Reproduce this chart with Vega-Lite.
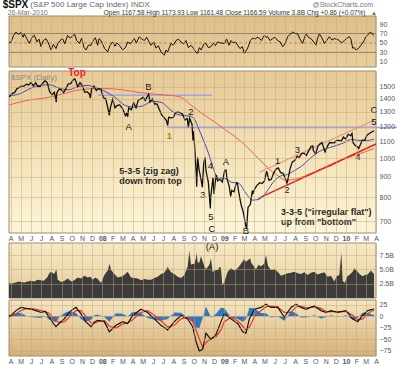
{
"$schema":"https://vega.github.io/schema/vega-lite/v6.json",
"background":"white",
"padding":{"left":2,"top":0,"right":0,"bottom":0},
"spacing":0,
"resolve":{"scale":{"x":"independent","y":"independent"}},
"config":{"view":{"stroke":null},"font":"Liberation Sans","axis":{"labelFont":"Liberation Sans","labelFontSize":7,"labelColor":"#555","ticks":false,"domain":false,"gridColor":"#c2a676","gridOpacity":0.45,"gridWidth":1,"minExtent":0,"zindex":1}},
"datasets":{
"px":[{"d":"2007-03-27","p":1417},{"d":"2007-03-30","p":1421},{"d":"2007-04-05","p":1443},{"d":"2007-04-13","p":1452},{"d":"2007-04-20","p":1484},{"d":"2007-04-27","p":1494},{"d":"2007-05-04","p":1505},{"d":"2007-05-11","p":1505},{"d":"2007-05-18","p":1522},{"d":"2007-05-25","p":1515},{"d":"2007-06-01","p":1536},{"d":"2007-06-08","p":1507},{"d":"2007-06-15","p":1533},{"d":"2007-06-22","p":1502},{"d":"2007-06-29","p":1503},{"d":"2007-07-06","p":1530},{"d":"2007-07-13","p":1552},{"d":"2007-07-20","p":1534},{"d":"2007-07-27","p":1458},{"d":"2007-08-03","p":1433},{"d":"2007-08-10","p":1453},{"d":"2007-08-16","p":1375},{"d":"2007-08-17","p":1445},{"d":"2007-08-24","p":1479},{"d":"2007-08-31","p":1474},{"d":"2007-09-07","p":1453},{"d":"2007-09-14","p":1484},{"d":"2007-09-21","p":1525},{"d":"2007-09-28","p":1527},{"d":"2007-10-05","p":1557},{"d":"2007-10-10","p":1568},{"d":"2007-10-12","p":1561},{"d":"2007-10-19","p":1500},{"d":"2007-10-26","p":1535},{"d":"2007-11-02","p":1509},{"d":"2007-11-09","p":1453},{"d":"2007-11-16","p":1458},{"d":"2007-11-23","p":1440},{"d":"2007-11-26","p":1407},{"d":"2007-11-30","p":1481},{"d":"2007-12-07","p":1504},{"d":"2007-12-14","p":1468},{"d":"2007-12-21","p":1484},{"d":"2007-12-28","p":1478},{"d":"2008-01-04","p":1411},{"d":"2008-01-11","p":1401},{"d":"2008-01-18","p":1325},{"d":"2008-01-22","p":1275},{"d":"2008-01-25","p":1330},{"d":"2008-02-01","p":1396},{"d":"2008-02-08","p":1331},{"d":"2008-02-15","p":1349},{"d":"2008-02-22","p":1353},{"d":"2008-02-29","p":1331},{"d":"2008-03-07","p":1294},{"d":"2008-03-10","p":1273},{"d":"2008-03-14","p":1288},{"d":"2008-03-17","p":1265},{"d":"2008-03-20","p":1330},{"d":"2008-03-28","p":1316},{"d":"2008-04-04","p":1370},{"d":"2008-04-11","p":1332},{"d":"2008-04-18","p":1390},{"d":"2008-04-25","p":1398},{"d":"2008-05-02","p":1413},{"d":"2008-05-09","p":1388},{"d":"2008-05-16","p":1425},{"d":"2008-05-19","p":1438},{"d":"2008-05-23","p":1376},{"d":"2008-05-30","p":1400},{"d":"2008-06-06","p":1360},{"d":"2008-06-13","p":1360},{"d":"2008-06-20","p":1318},{"d":"2008-06-27","p":1278},{"d":"2008-07-03","p":1262},{"d":"2008-07-11","p":1239},{"d":"2008-07-15","p":1205},{"d":"2008-07-18","p":1261},{"d":"2008-07-25","p":1257},{"d":"2008-08-01","p":1260},{"d":"2008-08-08","p":1296},{"d":"2008-08-15","p":1298},{"d":"2008-08-22","p":1293},{"d":"2008-08-29","p":1283},{"d":"2008-09-05","p":1242},{"d":"2008-09-12","p":1252},{"d":"2008-09-15","p":1193},{"d":"2008-09-19","p":1255},{"d":"2008-09-26","p":1213},{"d":"2008-09-29","p":1106},{"d":"2008-09-30","p":1166},{"d":"2008-10-03","p":1099},{"d":"2008-10-09","p":909},{"d":"2008-10-10","p":850},{"d":"2008-10-13","p":1003},{"d":"2008-10-17","p":940},{"d":"2008-10-22","p":896},{"d":"2008-10-24","p":877},{"d":"2008-10-27","p":848},{"d":"2008-10-31","p":968},{"d":"2008-11-04","p":1005},{"d":"2008-11-07","p":931},{"d":"2008-11-14","p":873},{"d":"2008-11-20","p":752},{"d":"2008-11-21","p":800},{"d":"2008-11-28","p":896},{"d":"2008-12-01","p":816},{"d":"2008-12-05","p":876},{"d":"2008-12-08","p":909},{"d":"2008-12-12","p":879},{"d":"2008-12-19","p":887},{"d":"2008-12-26","p":873},{"d":"2009-01-02","p":932},{"d":"2009-01-06","p":934},{"d":"2009-01-09","p":890},{"d":"2009-01-16","p":850},{"d":"2009-01-20","p":805},{"d":"2009-01-23","p":832},{"d":"2009-01-30","p":826},{"d":"2009-02-06","p":869},{"d":"2009-02-09","p":870},{"d":"2009-02-13","p":827},{"d":"2009-02-20","p":770},{"d":"2009-02-27","p":735},{"d":"2009-03-06","p":683},{"d":"2009-03-09","p":670},{"d":"2009-03-13","p":756},{"d":"2009-03-20","p":769},{"d":"2009-03-26","p":832},{"d":"2009-03-27","p":816},{"d":"2009-04-03","p":843},{"d":"2009-04-09","p":857},{"d":"2009-04-17","p":870},{"d":"2009-04-24","p":866},{"d":"2009-05-01","p":877},{"d":"2009-05-08","p":929},{"d":"2009-05-15","p":882},{"d":"2009-05-22","p":887},{"d":"2009-05-29","p":919},{"d":"2009-06-05","p":940},{"d":"2009-06-12","p":946},{"d":"2009-06-19","p":921},{"d":"2009-06-26","p":918},{"d":"2009-07-02","p":896},{"d":"2009-07-08","p":869},{"d":"2009-07-10","p":879},{"d":"2009-07-17","p":940},{"d":"2009-07-24","p":979},{"d":"2009-07-31","p":987},{"d":"2009-08-07","p":1010},{"d":"2009-08-14","p":1005},{"d":"2009-08-21","p":1026},{"d":"2009-08-28","p":1029},{"d":"2009-09-04","p":1016},{"d":"2009-09-11","p":1042},{"d":"2009-09-18","p":1068},{"d":"2009-09-23","p":1072},{"d":"2009-09-25","p":1044},{"d":"2009-10-02","p":1025},{"d":"2009-10-09","p":1071},{"d":"2009-10-16","p":1087},{"d":"2009-10-21","p":1092},{"d":"2009-10-23","p":1080},{"d":"2009-10-30","p":1036},{"d":"2009-11-06","p":1069},{"d":"2009-11-13","p":1093},{"d":"2009-11-20","p":1091},{"d":"2009-11-27","p":1091},{"d":"2009-12-04","p":1106},{"d":"2009-12-11","p":1106},{"d":"2009-12-18","p":1102},{"d":"2009-12-24","p":1127},{"d":"2009-12-31","p":1115},{"d":"2010-01-08","p":1145},{"d":"2010-01-15","p":1136},{"d":"2010-01-19","p":1150},{"d":"2010-01-22","p":1092},{"d":"2010-01-29","p":1074},{"d":"2010-02-05","p":1066},{"d":"2010-02-08","p":1056},{"d":"2010-02-12","p":1075},{"d":"2010-02-19","p":1109},{"d":"2010-02-26","p":1105},{"d":"2010-03-05","p":1139},{"d":"2010-03-12","p":1150},{"d":"2010-03-19","p":1160},{"d":"2010-03-26","p":1167}],
"ma50":[{"d":"2007-03-27","p":1425},{"d":"2007-04-27","p":1440},{"d":"2007-06-01","p":1488},{"d":"2007-06-29","p":1512},{"d":"2007-07-27","p":1517},{"d":"2007-08-24","p":1489},{"d":"2007-09-21","p":1474},{"d":"2007-10-19","p":1500},{"d":"2007-11-16","p":1511},{"d":"2007-12-14","p":1491},{"d":"2008-01-11","p":1458},{"d":"2008-02-08","p":1413},{"d":"2008-03-07","p":1352},{"d":"2008-04-04","p":1336},{"d":"2008-05-02","p":1346},{"d":"2008-05-30","p":1381},{"d":"2008-06-27","p":1372},{"d":"2008-07-25","p":1311},{"d":"2008-08-22","p":1276},{"d":"2008-09-19","p":1270},{"d":"2008-10-03","p":1249},{"d":"2008-10-17","p":1177},{"d":"2008-10-31","p":1103},{"d":"2008-11-14","p":1031},{"d":"2008-11-28","p":950},{"d":"2008-12-12","p":894},{"d":"2009-01-02","p":892},{"d":"2009-01-23","p":872},{"d":"2009-02-13","p":867},{"d":"2009-03-06","p":821},{"d":"2009-03-27","p":788},{"d":"2009-04-17","p":793},{"d":"2009-05-08","p":827},{"d":"2009-05-29","p":875},{"d":"2009-06-19","p":904},{"d":"2009-07-10","p":912},{"d":"2009-07-31","p":933},{"d":"2009-08-21","p":956},{"d":"2009-09-11","p":991},{"d":"2009-10-02","p":1025},{"d":"2009-10-23","p":1049},{"d":"2009-11-13","p":1062},{"d":"2009-12-04","p":1075},{"d":"2009-12-24","p":1090},{"d":"2010-01-15","p":1111},{"d":"2010-02-05","p":1107},{"d":"2010-02-26","p":1104},{"d":"2010-03-26","p":1114}],
"ma200":[{"d":"2007-03-27","p":1352},{"d":"2007-05-15","p":1385},{"d":"2007-07-31","p":1416},{"d":"2007-09-15","p":1448},{"d":"2007-10-29","p":1476},{"d":"2007-12-15","p":1484},{"d":"2008-01-27","p":1483},{"d":"2008-03-10","p":1470},{"d":"2008-04-26","p":1450},{"d":"2008-06-15","p":1436},{"d":"2008-08-01","p":1425},{"d":"2008-08-24","p":1412},{"d":"2008-09-23","p":1352},{"d":"2008-10-25","p":1290},{"d":"2008-12-02","p":1229},{"d":"2009-01-01","p":1180},{"d":"2009-01-31","p":1133},{"d":"2009-02-28","p":1085},{"d":"2009-03-22","p":1042},{"d":"2009-04-15","p":995},{"d":"2009-05-11","p":947},{"d":"2009-06-08","p":908},{"d":"2009-07-05","p":882},{"d":"2009-08-09","p":891},{"d":"2009-09-15","p":915},{"d":"2009-10-15","p":937},{"d":"2009-11-17","p":958},{"d":"2009-12-20","p":990},{"d":"2010-01-25","p":1015},{"d":"2010-02-25","p":1035},{"d":"2010-03-26","p":1056}],
"levels":[{"d":"2007-12-19","d2":"2008-11-25","p":1430},{"d":"2008-07-13","d2":"2010-06-03","p":1190}],
"chan":[{"k":"upper","d":"2009-04-16","p":923},{"k":"upper","d":"2010-03-26","p":1240},{"k":"lower","d":"2009-04-13","p":796},{"k":"lower","d":"2010-04-01","p":1084}],
"notes":[{"t":"$SPX (Daily)","d":"2007-04-02","p":1577,"k":"tag"},{"t":"Top","d":"2007-10-17","p":1618,"k":"top"},{"t":"B","d":"2008-05-18","p":1500,"k":"wave"},{"t":"A","d":"2008-03-20","p":1194,"k":"wave"},{"t":"1","d":"2008-07-20","p":1133,"k":"gold"},{"t":"2","d":"2008-09-23","p":1300,"k":"wave"},{"t":"4","d":"2008-11-20","p":955,"k":"wave"},{"t":"A","d":"2009-01-06","p":978,"k":"wave"},{"t":"3","d":"2008-10-29","p":813,"k":"wave"},{"t":"5","d":"2008-11-22","p":715,"k":"wave"},{"t":"C","d":"2008-11-25","p":669,"k":"wave"},{"t":"B","d":"2009-03-07","p":662,"k":"wave"},{"t":"1","d":"2009-06-10","p":985,"k":"wave"},{"t":"2","d":"2009-07-08","p":836,"k":"wave"},{"t":"3","d":"2009-08-08","p":1048,"k":"wave"},{"t":"4","d":"2010-02-06","p":1006,"k":"wave"},{"t":"5","d":"2010-03-26","p":1231,"k":"wave"},{"t":"C","d":"2010-03-26","p":1314,"k":"wave"},{"t":"5-3-5 (zig zag)","d":"2008-02-21","p":932,"k":"note"},{"t":"down from top","d":"2008-02-21","p":878,"k":"note"},{"t":"3-3-5 (\"irregular flat\")","d":"2009-06-20","p":737,"k":"note"},{"t":"up from \"bottom\"","d":"2009-06-20","p":697,"k":"note"}],
"rsi":[{"d":"2007-03-27","p":50},{"d":"2007-04-02","p":52},{"d":"2007-04-10","p":66},{"d":"2007-04-17","p":73},{"d":"2007-04-24","p":68},{"d":"2007-05-02","p":72},{"d":"2007-05-08","p":62},{"d":"2007-05-12","p":69},{"d":"2007-05-20","p":58},{"d":"2007-05-27","p":49},{"d":"2007-06-04","p":62},{"d":"2007-06-11","p":66},{"d":"2007-06-19","p":52},{"d":"2007-06-25","p":58},{"d":"2007-07-01","p":42},{"d":"2007-07-08","p":55},{"d":"2007-07-16","p":59},{"d":"2007-07-23","p":50},{"d":"2007-07-31","p":35},{"d":"2007-08-07","p":47},{"d":"2007-08-15","p":38},{"d":"2007-08-20","p":48},{"d":"2007-08-27","p":55},{"d":"2007-09-04","p":59},{"d":"2007-09-10","p":48},{"d":"2007-09-19","p":66},{"d":"2007-09-26","p":60},{"d":"2007-10-04","p":65},{"d":"2007-10-10","p":68},{"d":"2007-10-16","p":55},{"d":"2007-10-24","p":49},{"d":"2007-10-31","p":60},{"d":"2007-11-07","p":40},{"d":"2007-11-13","p":35},{"d":"2007-11-20","p":45},{"d":"2007-11-28","p":45},{"d":"2007-12-05","p":55},{"d":"2007-12-11","p":61},{"d":"2007-12-18","p":45},{"d":"2007-12-22","p":59},{"d":"2007-12-28","p":55},{"d":"2008-01-08","p":38},{"d":"2008-01-17","p":31},{"d":"2008-01-24","p":45},{"d":"2008-02-01","p":52},{"d":"2008-02-08","p":43},{"d":"2008-02-14","p":50},{"d":"2008-02-21","p":45},{"d":"2008-03-02","p":35},{"d":"2008-03-10","p":40},{"d":"2008-03-17","p":52},{"d":"2008-03-25","p":48},{"d":"2008-04-06","p":59},{"d":"2008-04-12","p":50},{"d":"2008-04-21","p":63},{"d":"2008-04-28","p":58},{"d":"2008-05-06","p":55},{"d":"2008-05-13","p":62},{"d":"2008-05-20","p":52},{"d":"2008-05-26","p":45},{"d":"2008-06-03","p":52},{"d":"2008-06-10","p":39},{"d":"2008-06-17","p":44},{"d":"2008-06-25","p":31},{"d":"2008-07-05","p":24},{"d":"2008-07-10","p":35},{"d":"2008-07-15","p":31},{"d":"2008-07-25","p":49},{"d":"2008-08-01","p":45},{"d":"2008-08-09","p":55},{"d":"2008-08-16","p":58},{"d":"2008-08-24","p":52},{"d":"2008-09-01","p":48},{"d":"2008-09-08","p":55},{"d":"2008-09-15","p":40},{"d":"2008-09-23","p":45},{"d":"2008-10-01","p":38},{"d":"2008-10-08","p":30},{"d":"2008-10-13","p":28},{"d":"2008-10-18","p":40},{"d":"2008-10-23","p":35},{"d":"2008-11-01","p":48},{"d":"2008-11-07","p":49},{"d":"2008-11-14","p":40},{"d":"2008-11-22","p":42},{"d":"2008-11-30","p":50},{"d":"2008-12-05","p":44},{"d":"2008-12-12","p":52},{"d":"2008-12-20","p":50},{"d":"2009-01-01","p":49},{"d":"2009-01-08","p":58},{"d":"2009-01-15","p":45},{"d":"2009-01-21","p":55},{"d":"2009-01-28","p":50},{"d":"2009-02-04","p":52},{"d":"2009-02-10","p":45},{"d":"2009-02-17","p":38},{"d":"2009-02-24","p":42},{"d":"2009-03-02","p":28},{"d":"2009-03-06","p":32},{"d":"2009-03-12","p":39},{"d":"2009-03-20","p":55},{"d":"2009-03-27","p":60},{"d":"2009-04-04","p":58},{"d":"2009-04-09","p":62},{"d":"2009-04-16","p":60},{"d":"2009-04-22","p":55},{"d":"2009-05-01","p":66},{"d":"2009-05-06","p":62},{"d":"2009-05-11","p":63},{"d":"2009-05-18","p":55},{"d":"2009-05-26","p":59},{"d":"2009-06-02","p":62},{"d":"2009-06-10","p":55},{"d":"2009-06-18","p":52},{"d":"2009-06-25","p":42},{"d":"2009-07-02","p":48},{"d":"2009-07-10","p":63},{"d":"2009-07-17","p":68},{"d":"2009-07-25","p":73},{"d":"2009-08-01","p":70},{"d":"2009-08-09","p":69},{"d":"2009-08-16","p":58},{"d":"2009-08-24","p":49},{"d":"2009-08-29","p":60},{"d":"2009-09-03","p":69},{"d":"2009-09-10","p":62},{"d":"2009-09-18","p":59},{"d":"2009-09-26","p":52},{"d":"2009-10-03","p":45},{"d":"2009-10-08","p":60},{"d":"2009-10-13","p":69},{"d":"2009-10-20","p":62},{"d":"2009-10-28","p":49},{"d":"2009-11-04","p":55},{"d":"2009-11-12","p":63},{"d":"2009-11-20","p":56},{"d":"2009-11-27","p":59},{"d":"2009-12-04","p":58},{"d":"2009-12-12","p":55},{"d":"2009-12-19","p":50},{"d":"2009-12-27","p":55},{"d":"2010-01-04","p":60},{"d":"2010-01-11","p":63},{"d":"2010-01-16","p":58},{"d":"2010-01-21","p":39},{"d":"2010-01-26","p":40},{"d":"2010-01-31","p":35},{"d":"2010-02-07","p":38},{"d":"2010-02-15","p":45},{"d":"2010-02-22","p":52},{"d":"2010-03-02","p":63},{"d":"2010-03-09","p":68},{"d":"2010-03-15","p":73},{"d":"2010-03-20","p":70},{"d":"2010-03-26","p":66}],
"rsiref":[{"d":"2007-03-27","d2":"2010-04-01","p":30,"k":"band"},{"d":"2007-03-27","d2":"2010-04-01","p":70,"k":"band"},{"d":"2007-03-27","d2":"2010-04-01","p":50,"k":"mid"}],
"header":[{"t":"$SPX","d":"2007-03-08","p":130,"k":"sym"},{"t":"(S&P 500 Large Cap Index) INDX","d":"2007-05-30","p":130,"k":"name"},{"t":"@StockCharts.com","d":"2010-03-23","p":130,"k":"brand"},{"t":"26-Mar-2010","d":"2007-03-23","p":114,"k":"date"},{"t":"Open 1167.58  High 1173.93  Low 1161.48  Close 1166.59  Volume 3.8B  Chg +0.86 (+0.07%)","d":"2010-02-28","p":114,"k":"quote"},{"t":"▲","d":"2010-03-26","p":114,"k":"up"}],
"vol":[{"d":"2007-03-27","p":2.6},{"d":"2007-04-02","p":2.5},{"d":"2007-04-10","p":2.6},{"d":"2007-04-17","p":2.7},{"d":"2007-04-24","p":2.9},{"d":"2007-05-02","p":2.8},{"d":"2007-05-12","p":2.7},{"d":"2007-05-22","p":2.9},{"d":"2007-06-01","p":3.0},{"d":"2007-06-11","p":2.9},{"d":"2007-06-20","p":3.2},{"d":"2007-07-01","p":3.1},{"d":"2007-07-10","p":3.0},{"d":"2007-07-21","p":3.7},{"d":"2007-07-26","p":4.3},{"d":"2007-07-31","p":4.6},{"d":"2007-08-10","p":4.2},{"d":"2007-08-16","p":5.0},{"d":"2007-08-20","p":3.2},{"d":"2007-08-30","p":2.8},{"d":"2007-09-10","p":3.0},{"d":"2007-09-19","p":3.4},{"d":"2007-09-30","p":2.9},{"d":"2007-10-09","p":3.1},{"d":"2007-10-19","p":3.6},{"d":"2007-10-29","p":3.4},{"d":"2007-11-08","p":3.9},{"d":"2007-11-18","p":3.6},{"d":"2007-11-26","p":3.7},{"d":"2007-12-03","p":3.2},{"d":"2007-12-11","p":3.6},{"d":"2007-12-18","p":3.3},{"d":"2007-12-28","p":2.6},{"d":"2008-01-07","p":4.0},{"d":"2008-01-17","p":4.8},{"d":"2008-01-23","p":6.0},{"d":"2008-01-27","p":4.9},{"d":"2008-02-06","p":4.2},{"d":"2008-02-16","p":3.6},{"d":"2008-02-26","p":3.7},{"d":"2008-03-07","p":4.0},{"d":"2008-03-17","p":4.6},{"d":"2008-03-27","p":3.6},{"d":"2008-04-06","p":3.5},{"d":"2008-04-16","p":3.4},{"d":"2008-04-26","p":3.1},{"d":"2008-05-06","p":3.3},{"d":"2008-05-16","p":3.2},{"d":"2008-05-26","p":3.2},{"d":"2008-06-05","p":3.5},{"d":"2008-06-15","p":3.7},{"d":"2008-06-25","p":4.2},{"d":"2008-07-05","p":4.4},{"d":"2008-07-15","p":5.4},{"d":"2008-07-25","p":4.5},{"d":"2008-08-04","p":4.2},{"d":"2008-08-14","p":3.7},{"d":"2008-08-24","p":3.5},{"d":"2008-09-03","p":4.0},{"d":"2008-09-13","p":5.5},{"d":"2008-09-18","p":8.3},{"d":"2008-09-23","p":5.8},{"d":"2008-09-28","p":6.0},{"d":"2008-10-03","p":5.9},{"d":"2008-10-08","p":7.0},{"d":"2008-10-10","p":8.0},{"d":"2008-10-13","p":6.2},{"d":"2008-10-18","p":6.2},{"d":"2008-10-23","p":7.3},{"d":"2008-10-28","p":6.4},{"d":"2008-11-02","p":5.6},{"d":"2008-11-07","p":5.0},{"d":"2008-11-12","p":5.4},{"d":"2008-11-17","p":5.8},{"d":"2008-11-22","p":6.9},{"d":"2008-11-27","p":4.5},{"d":"2008-12-02","p":4.8},{"d":"2008-12-12","p":4.9},{"d":"2008-12-19","p":5.5},{"d":"2008-12-22","p":5.1},{"d":"2008-12-26","p":2.2},{"d":"2009-01-01","p":2.8},{"d":"2009-01-11","p":4.6},{"d":"2009-01-21","p":5.2},{"d":"2009-01-31","p":4.8},{"d":"2009-02-10","p":5.2},{"d":"2009-02-20","p":6.0},{"d":"2009-03-02","p":6.8},{"d":"2009-03-07","p":6.3},{"d":"2009-03-12","p":6.6},{"d":"2009-03-20","p":6.9},{"d":"2009-03-22","p":6.2},{"d":"2009-04-01","p":5.4},{"d":"2009-04-06","p":5.0},{"d":"2009-04-14","p":5.8},{"d":"2009-04-21","p":5.5},{"d":"2009-04-30","p":6.0},{"d":"2009-05-06","p":7.5},{"d":"2009-05-12","p":5.6},{"d":"2009-05-21","p":4.9},{"d":"2009-06-01","p":5.0},{"d":"2009-06-10","p":4.6},{"d":"2009-06-20","p":3.9},{"d":"2009-06-30","p":4.1},{"d":"2009-07-10","p":4.3},{"d":"2009-07-20","p":4.4},{"d":"2009-07-30","p":4.6},{"d":"2009-08-09","p":4.3},{"d":"2009-08-19","p":4.2},{"d":"2009-08-29","p":4.5},{"d":"2009-09-08","p":4.0},{"d":"2009-09-18","p":4.4},{"d":"2009-09-28","p":4.6},{"d":"2009-10-08","p":4.1},{"d":"2009-10-18","p":4.3},{"d":"2009-10-28","p":4.5},{"d":"2009-11-07","p":3.7},{"d":"2009-11-17","p":3.9},{"d":"2009-11-27","p":2.9},{"d":"2009-12-04","p":3.8},{"d":"2009-12-12","p":4.0},{"d":"2009-12-18","p":7.9},{"d":"2009-12-22","p":3.0},{"d":"2009-12-28","p":2.6},{"d":"2010-01-05","p":3.8},{"d":"2010-01-11","p":4.0},{"d":"2010-01-21","p":4.6},{"d":"2010-01-26","p":5.2},{"d":"2010-02-05","p":4.6},{"d":"2010-02-12","p":4.1},{"d":"2010-02-20","p":3.8},{"d":"2010-02-27","p":4.0},{"d":"2010-03-07","p":4.1},{"d":"2010-03-17","p":4.8},{"d":"2010-03-22","p":4.4},{"d":"2010-03-26","p":4.2}],
"macd":[{"d":"2007-03-27","p":0,"s":-2,"h":2},{"d":"2007-04-02","p":1.5,"s":0,"h":1.5},{"d":"2007-04-17","p":12,"s":5,"h":7},{"d":"2007-05-02","p":19,"s":12,"h":7},{"d":"2007-05-17","p":17,"s":16,"h":1},{"d":"2007-06-01","p":15,"s":17,"h":-2},{"d":"2007-06-16","p":12,"s":15,"h":-3},{"d":"2007-07-01","p":8,"s":12,"h":-4},{"d":"2007-07-14","p":10,"s":10,"h":0},{"d":"2007-07-26","p":-2,"s":6,"h":-8},{"d":"2007-08-06","p":-15,"s":-4,"h":-11},{"d":"2007-08-15","p":-23,"s":-10,"h":-13},{"d":"2007-08-27","p":-14,"s":-14,"h":0},{"d":"2007-09-09","p":-6,"s":-12,"h":6},{"d":"2007-09-19","p":4,"s":-6,"h":10},{"d":"2007-09-29","p":12,"s":2,"h":10},{"d":"2007-10-14","p":19,"s":12,"h":7},{"d":"2007-10-29","p":5,"s":12,"h":-7},{"d":"2007-11-12","p":-12,"s":0,"h":-12},{"d":"2007-11-28","p":-23,"s":-15,"h":-8},{"d":"2007-12-10","p":-12,"s":-15,"h":3},{"d":"2007-12-18","p":-9,"s":-12,"h":3},{"d":"2008-01-07","p":-12,"s":-10,"h":-2},{"d":"2008-01-22","p":-34,"s":-22,"h":-12},{"d":"2008-02-11","p":-20,"s":-26,"h":6},{"d":"2008-03-02","p":-12,"s":-17,"h":5},{"d":"2008-03-17","p":-16,"s":-15,"h":-1},{"d":"2008-04-01","p":1.5,"s":-8,"h":9.5},{"d":"2008-04-26","p":15,"s":8,"h":7},{"d":"2008-05-16","p":8,"s":12,"h":-4},{"d":"2008-06-05","p":-6,"s":2,"h":-8},{"d":"2008-06-25","p":-20,"s":-10,"h":-10},{"d":"2008-07-15","p":-30,"s":-24,"h":-6},{"d":"2008-08-04","p":-12,"s":-20,"h":8},{"d":"2008-08-24","p":1.5,"s":-6,"h":7.5},{"d":"2008-09-13","p":-6,"s":-3,"h":-3},{"d":"2008-09-28","p":-23,"s":-12,"h":-11},{"d":"2008-10-08","p":-55,"s":-30,"h":-25},{"d":"2008-10-18","p":-76,"s":-50,"h":-26},{"d":"2008-10-28","p":-72,"s":-68,"h":-4},{"d":"2008-11-07","p":-37,"s":-58,"h":21},{"d":"2008-11-22","p":-51,"s":-48,"h":-3},{"d":"2008-12-07","p":-40,"s":-45,"h":5},{"d":"2008-12-22","p":-12,"s":-30,"h":18},{"d":"2009-01-01","p":5,"s":-12,"h":17},{"d":"2009-01-21","p":-6,"s":-3,"h":-3},{"d":"2009-02-10","p":-16,"s":-10,"h":-6},{"d":"2009-02-25","p":-34,"s":-22,"h":-12},{"d":"2009-03-07","p":-37,"s":-30,"h":-7},{"d":"2009-03-17","p":-6,"s":-24,"h":18},{"d":"2009-04-01","p":15,"s":-2,"h":17},{"d":"2009-04-21","p":19,"s":12,"h":7},{"d":"2009-05-06","p":26,"s":20,"h":6},{"d":"2009-05-21","p":19,"s":22,"h":-3},{"d":"2009-06-10","p":19,"s":20,"h":-1},{"d":"2009-06-30","p":-2,"s":8,"h":-10},{"d":"2009-07-20","p":19,"s":8,"h":11},{"d":"2009-08-04","p":26,"s":20,"h":6},{"d":"2009-08-19","p":19,"s":22,"h":-3},{"d":"2009-09-03","p":15,"s":18,"h":-3},{"d":"2009-09-28","p":22,"s":20,"h":2},{"d":"2009-10-18","p":12,"s":17,"h":-5},{"d":"2009-11-02","p":8,"s":10,"h":-2},{"d":"2009-11-17","p":12,"s":10,"h":2},{"d":"2009-12-07","p":8,"s":10,"h":-2},{"d":"2010-01-01","p":12,"s":10,"h":2},{"d":"2010-01-21","p":-6,"s":2,"h":-8},{"d":"2010-02-05","p":-12,"s":-8,"h":-4},{"d":"2010-02-20","p":1.5,"s":-6,"h":7.5},{"d":"2010-03-07","p":12,"s":5,"h":7},{"d":"2010-03-22","p":15,"s":12,"h":3},{"d":"2010-03-26","p":16,"s":13,"h":3}]
},
"vconcat":[
{
"width":367,"height":51,
"encoding":{
"x":{"field":"d","type":"temporal","title":null,"scale":{"domain":[{"year":2007,"month":3,"date":27},{"year":2010,"month":4,"date":1}]},"axis":{"grid":true,"labels":false,"tickCount":{"interval":"month","step":1},"zindex":1}},
"y":{"field":"p","type":"quantitative","title":null,"scale":{"domain":[-1,107]},"axis":{"orient":"right","values":[10,30,50,70,90],"grid":false,"labelPadding":3,"zindex":1}}
},
"layer":[
{"data":{"values":[{"d":"2007-03-27","d2":"2010-04-01","p":-1,"p2":107}]},"mark":{"type":"rect","fill":{"gradient":"linear","x1":0,"y1":0,"x2":0,"y2":1,"stops":[{"offset":0,"color":"#dfbe88"},{"offset":1,"color":"#e9cf9e"}]},"stroke":"#9e8c6c","strokeWidth":1},"encoding":{"x2":{"field":"d2"},"y2":{"field":"p2"}}},
{"data":{"name":"rsiref"},"transform":[{"filter":"datum.k=='band'"}],"mark":{"type":"rule","color":"#8a8272","strokeWidth":1},"encoding":{"x2":{"field":"d2"}}},
{"data":{"name":"rsiref"},"transform":[{"filter":"datum.k=='mid'"}],"mark":{"type":"rule","color":"#a39478","strokeWidth":1,"strokeDash":[3,2]},"encoding":{"x2":{"field":"d2"}}},
{"data":{"name":"rsi"},"mark":{"type":"line","color":"#111","strokeWidth":1},"encoding":{}},
{"data":{"name":"header"},"transform":[{"filter":"datum.k=='sym'"}],"mark":{"type":"text","align":"left","baseline":"middle","fontSize":10,"fontWeight":"bold","color":"#111"},"encoding":{"text":{"field":"t"}}},
{"data":{"name":"header"},"transform":[{"filter":"datum.k=='name'"}],"mark":{"type":"text","align":"left","baseline":"middle","fontSize":8,"color":"#666"},"encoding":{"text":{"field":"t"}}},
{"data":{"name":"header"},"transform":[{"filter":"datum.k=='brand'"}],"mark":{"type":"text","align":"right","baseline":"middle","fontSize":7,"color":"#777"},"encoding":{"text":{"field":"t"}}},
{"data":{"name":"header"},"transform":[{"filter":"datum.k=='date'"}],"mark":{"type":"text","align":"left","baseline":"middle","fontSize":7,"color":"#777"},"encoding":{"text":{"field":"t"}}},
{"data":{"name":"header"},"transform":[{"filter":"datum.k=='quote'"}],"mark":{"type":"text","align":"right","baseline":"middle","fontSize":6.5,"color":"#333"},"encoding":{"text":{"field":"t"}}},
{"data":{"name":"header"},"transform":[{"filter":"datum.k=='up'"}],"mark":{"type":"text","align":"center","baseline":"middle","fontSize":6,"color":"#2a9a2a"},"encoding":{"text":{"field":"t"}}}
]
},
{
"width":367,"height":162,
"encoding":{
"x":{"field":"d","type":"temporal","title":null,"scale":{"domain":[{"year":2007,"month":3,"date":27},{"year":2010,"month":4,"date":1}]},"axis":{"grid":true,"labels":true,"tickCount":{"interval":"month","step":1},"labelExpr":"month(datum.value)==0 ? timeFormat(datum.value,'%y') : substring(timeFormat(datum.value,'%b'),0,1)","labelFontWeight":{"condition":{"test":"month(datum.value)==0","value":"bold"},"value":"normal"},"labelFontSize":7,"labelPadding":1,"labelFlush":false,"labelOverlap":false,"labelBound":false,"minExtent":9,"maxExtent":9,"zindex":1}},
"y":{"field":"p","type":"quantitative","title":null,"scale":{"type":"log","domain":[654,1640]},"axis":{"orient":"right","values":[700,800,900,1000,1100,1200,1300,1400,1500],"format":"d","grid":true,"labelPadding":3,"zindex":1}}
},
"layer":[
{"data":{"values":[{"d":"2007-03-27","d2":"2010-04-01","p":654,"p2":1640}]},"mark":{"type":"rect","fill":{"gradient":"linear","x1":0,"y1":0,"x2":0,"y2":1,"stops":[{"offset":0,"color":"#e6c995"},{"offset":0.5,"color":"#f3e2b8"},{"offset":1,"color":"#fcf5d9"}]},"stroke":"#9e8c6c","strokeWidth":1},"encoding":{"x2":{"field":"d2"},"y2":{"field":"p2"}}},
{"data":{"name":"levels"},"mark":{"type":"rule","color":"#a4a4ec","strokeWidth":1.5},"encoding":{"x2":{"field":"d2"}}},
{"data":{"name":"ma200"},"mark":{"type":"line","color":"#f25a4a","strokeWidth":1,"interpolate":"monotone"},"encoding":{}},
{"data":{"name":"chan"},"transform":[{"filter":"datum.k=='upper'"}],"mark":{"type":"line","color":"#f08070","strokeWidth":1},"encoding":{}},
{"data":{"name":"chan"},"transform":[{"filter":"datum.k=='lower'"}],"mark":{"type":"line","color":"#e02020","strokeWidth":1.5},"encoding":{}},
{"data":{"name":"ma50"},"mark":{"type":"line","color":"#4646b4","strokeWidth":1,"interpolate":"monotone"},"encoding":{}},
{"data":{"name":"px"},"mark":{"type":"line","color":"#111","strokeWidth":1.3},"encoding":{}},
{"data":{"name":"notes"},"transform":[{"filter":"datum.k=='tag'"}],"mark":{"type":"text","align":"left","baseline":"middle","fontSize":8,"color":"#888"},"encoding":{"text":{"field":"t"}}},
{"data":{"name":"notes"},"transform":[{"filter":"datum.k=='top'"}],"mark":{"type":"text","align":"center","baseline":"middle","fontSize":10,"fontWeight":"bold","color":"#e8281e"},"encoding":{"text":{"field":"t"}}},
{"data":{"name":"notes"},"transform":[{"filter":"datum.k=='wave'"}],"mark":{"type":"text","align":"center","baseline":"middle","fontSize":9.5,"color":"#111"},"encoding":{"text":{"field":"t"}}},
{"data":{"name":"notes"},"transform":[{"filter":"datum.k=='gold'"}],"mark":{"type":"text","align":"center","baseline":"middle","fontSize":9.5,"fontWeight":"bold","color":"#c08000"},"encoding":{"text":{"field":"t"}}},
{"data":{"name":"notes"},"transform":[{"filter":"datum.k=='note'"}],"mark":{"type":"text","align":"left","baseline":"middle","fontSize":9,"fontWeight":"bold","color":"#1e261e"},"encoding":{"text":{"field":"t"}}}
]
},
{
"width":367,"height":55,
"encoding":{
"x":{"field":"d","type":"temporal","title":null,"scale":{"domain":[{"year":2007,"month":3,"date":27},{"year":2010,"month":4,"date":1}]},"axis":{"grid":true,"labels":false,"tickCount":{"interval":"month","step":1},"zindex":1}},
"y":{"field":"p","type":"quantitative","title":null,"scale":{"domain":[0,9.6],"nice":false},"axis":{"orient":"right","values":[2.5,5,7.5],"labelExpr":"format(datum.value,'.1f')+'B'","grid":true,"labelPadding":3,"zindex":1}}
},
"layer":[
{"data":{"values":[{"d":"2007-03-27","d2":"2010-04-01","p":0,"p2":9.6}]},"mark":{"type":"rect","fill":{"gradient":"linear","x1":0,"y1":0,"x2":0,"y2":1,"stops":[{"offset":0,"color":"#f6e9c6"},{"offset":1,"color":"#e6cc9a"}]},"stroke":"#9e8c6c","strokeWidth":1},"encoding":{"x2":{"field":"d2"},"y2":{"field":"p2"}}},
{"data":{"name":"vol"},"mark":{"type":"area","color":"#3c3c3c"},"encoding":{}},
{"data":{"values":[{"t":"(A)","d":"2008-11-25","p":8.9}]},"mark":{"type":"text","align":"center","baseline":"middle","fontSize":9.5,"color":"#111"},"encoding":{"text":{"field":"t"}}}
]
},
{
"width":367,"height":56,
"encoding":{
"x":{"field":"d","type":"temporal","title":null,"scale":{"domain":[{"year":2007,"month":3,"date":27},{"year":2010,"month":4,"date":1}]},"axis":{"grid":true,"labels":true,"tickCount":{"interval":"month","step":1},"labelExpr":"month(datum.value)==0 ? timeFormat(datum.value,'%y') : substring(timeFormat(datum.value,'%b'),0,1)","labelFontWeight":{"condition":{"test":"month(datum.value)==0","value":"bold"},"value":"normal"},"labelFontSize":7,"labelPadding":1,"labelFlush":false,"labelOverlap":false,"labelBound":false,"zindex":1}},
"y":{"field":"p","type":"quantitative","title":null,"scale":{"domain":[-86.8,35.1],"nice":false},"axis":{"orient":"right","values":[-75,-50,-25,0,25],"grid":true,"labelPadding":3,"zindex":1}}
},
"layer":[
{"data":{"values":[{"d":"2007-03-27","d2":"2010-04-01","p":-86.8,"p2":35.1}]},"mark":{"type":"rect","fill":{"gradient":"linear","x1":0,"y1":0,"x2":0,"y2":1,"stops":[{"offset":0,"color":"#f4e6bf"},{"offset":1,"color":"#d6b07a"}]},"stroke":"#9e8c6c","strokeWidth":1},"encoding":{"x2":{"field":"d2"},"y2":{"field":"p2"}}},
{"data":{"name":"macd"},"mark":{"type":"area","color":"#1f6cbf","opacity":0.9},"encoding":{"y":{"field":"h","type":"quantitative","title":null},"y2":{"datum":0}}},
{"data":{"name":"macd"},"mark":{"type":"line","color":"#e8301e","strokeWidth":1.2},"encoding":{"y":{"field":"s","type":"quantitative","title":null}}},
{"data":{"name":"macd"},"mark":{"type":"line","color":"#111","strokeWidth":1.2},"encoding":{}}
]
}
]
}
